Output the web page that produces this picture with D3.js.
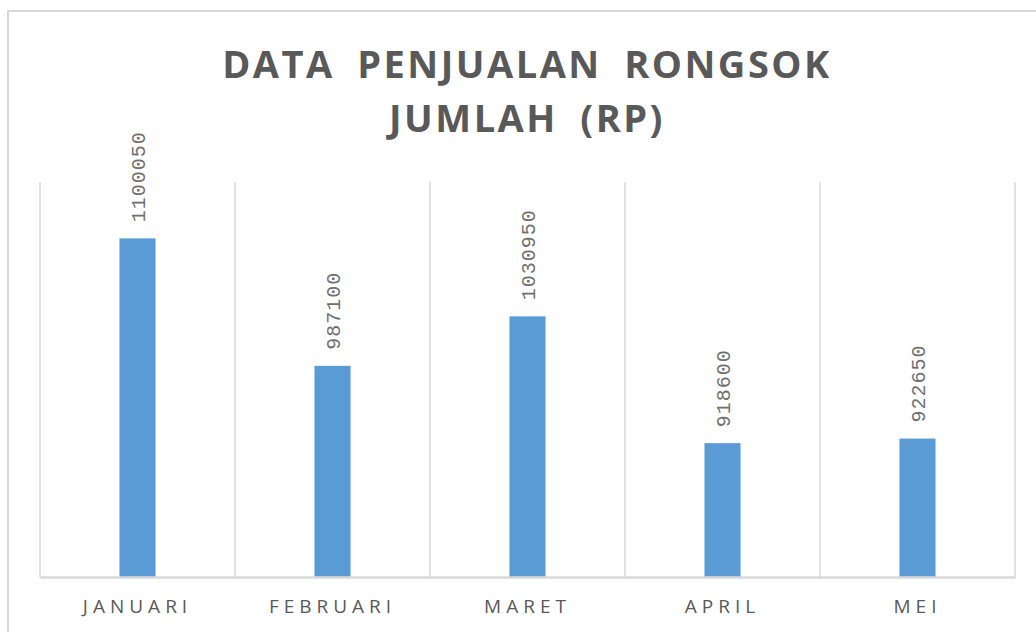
<!DOCTYPE html>
<html>
<head>
<meta charset="utf-8">
<script src="https://cdn.jsdelivr.net/npm/d3@7"></script>
<style>
  html, body { margin: 0; padding: 0; background: #fff; }
  svg { display: block; }
</style>
</head>
<body>
<svg id="chart" width="1036" height="632"></svg>
<script>
const categories = ["JANUARI", "FEBRUARI", "MARET", "APRIL", "MEI"];
const values = [1100050, 987100, 1030950, 918600, 922650];
const yDomain = [800000, 1150000];
const titleLines = ["DATA PENJUALAN RONGSOK", "JUMLAH (RP)"];

const svg = d3.select("#chart");
const W = 1036, H = 632;
const plot = { left: 40, right: 1015, top: 182, bottom: 577 };

svg.append("rect").attr("width", W).attr("height", H).attr("fill", "#fff");

// chart border
svg.append("rect")
  .attr("x", 8).attr("y", 11)
  .attr("width", W + 20).attr("height", H + 20)
  .attr("fill", "none").attr("stroke", "#d9d9d9").attr("stroke-width", 2);

const xCell = d3.scaleBand().domain(categories).range([plot.left, plot.right]);
const x = d3.scaleBand().domain(categories).range([plot.left, plot.right])
  .paddingInner(0.815).paddingOuter(0.4075);
const y = d3.scaleLinear().domain(yDomain).range([plot.bottom, plot.top]);

// vertical gridlines at category boundaries
const gridX = categories.map(c => xCell(c)).concat([xCell.range()[1]]);
svg.append("g").selectAll("line").data(gridX).join("line")
  .attr("x1", d => d).attr("x2", d => d)
  .attr("y1", y(yDomain[1])).attr("y2", y(yDomain[0]))
  .attr("stroke", "#d9d9d9").attr("stroke-width", 1.5);

// bars
svg.append("g").selectAll("rect").data(values).join("rect")
  .attr("x", (d, i) => x(categories[i]))
  .attr("width", x.bandwidth())
  .attr("y", d => y(d))
  .attr("height", d => y(yDomain[0]) - y(d))
  .attr("fill", "#5b9bd5");

// baseline axis
const xAxis = d3.axisBottom(xCell).tickSize(0).tickPadding(0);
const gAxis = svg.append("g").attr("transform", `translate(0,${y(yDomain[0])})`).call(xAxis);
gAxis.select(".domain").attr("stroke", "#d9d9d9").attr("stroke-width", 2.5);
gAxis.selectAll(".tick text")
  .attr("y", 36)
  .attr("dy", 0)
  .attr("fill", "#595959")
  .style("font-family", "'Open Sans', sans-serif")
  .style("font-size", "19px")
  .style("letter-spacing", "5px");

// data labels (rotated)
svg.append("g").selectAll("text").data(values).join("text")
  .attr("transform", (d, i) => `translate(${x(categories[i]) + x.bandwidth() / 2},${y(d) - 16}) rotate(-90)`)
  .attr("text-anchor", "start")
  .attr("dy", "0.36em")
  .attr("fill", "#707070")
  .style("font-family", "'Liberation Mono', monospace")
  .style("font-size", "20px")
  .style("letter-spacing", "1px")
  .text(d => d);

// title
const titleG = svg.append("g");
titleG.selectAll("text").data(titleLines).join("text")
  .attr("x", 527)
  .attr("y", (d, i) => 78 + i * 54)
  .attr("text-anchor", "middle")
  .attr("fill", "#595959")
  .style("font-family", "'Open Sans', sans-serif")
  .style("font-weight", "bold")
  .style("font-size", "38px")
  .style("letter-spacing", "2.5px")
  .style("word-spacing", "10px")
  .text(d => d);
</script>
</body>
</html>
